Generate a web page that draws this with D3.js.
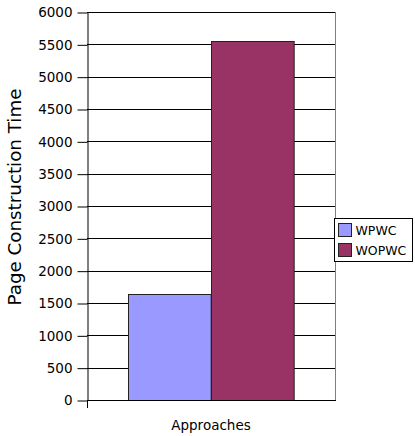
<!DOCTYPE html>
<html>
<head>
<meta charset="utf-8">
<script src="https://cdn.jsdelivr.net/npm/d3@7"></script>
<style>
  html, body { margin: 0; padding: 0; background: #fff; }
  svg { display: block; font-family: "DejaVu Sans", Verdana, sans-serif; }
</style>
</head>
<body>
<svg id="chart" width="415" height="436"></svg>
<script>
// Chart data
const categories = ["Approaches"];
const seriesNames = ["WPWC", "WOPWC"];
const seriesValues = [1635, 5555];
const seriesColors = ["#9999FF", "#993366"];
const yTicks = [0, 500, 1000, 1500, 2000, 2500, 3000, 3500, 4000, 4500, 5000, 5500, 6000];

const svg = d3.select("#chart");
const plot = { left: 87, right: 335, top: 12, bottom: 400 };

const y = d3.scaleLinear().domain([0, 6000]).range([plot.bottom, plot.top]);
const x0 = d3.scaleBand().domain(categories).range([plot.left, plot.right])
  .paddingInner(0).paddingOuter(0.25);
const x1 = d3.scaleBand().domain(seriesNames).range([0, x0.bandwidth()]).padding(0);

// Horizontal gridlines
svg.append("g")
  .selectAll("line")
  .data(yTicks.filter(d => d > 0))
  .join("line")
  .attr("x1", plot.left).attr("x2", plot.right)
  .attr("y1", d => Math.round(y(d)) + 0.5).attr("y2", d => Math.round(y(d)) + 0.5)
  .attr("stroke", "#000").attr("stroke-width", 1);

// Right border of the plot area
svg.append("line")
  .attr("x1", plot.right + 0.5).attr("x2", plot.right + 0.5)
  .attr("y1", Math.round(y(6000))).attr("y2", plot.bottom)
  .attr("stroke", "#808080");

// Bars
const data = seriesNames.map((name, i) => ({ cat: categories[0], name, value: seriesValues[i], color: seriesColors[i] }));
svg.append("g")
  .selectAll("rect")
  .data(data)
  .join("rect")
  .attr("x", d => Math.round(x0(d.cat) + x1(d.name)) + 0.5)
  .attr("y", d => Math.round(y(d.value)) + 0.5)
  .attr("width", x1.bandwidth())
  .attr("height", d => Math.round(y(0)) - Math.round(y(d.value)))
  .attr("fill", d => d.color)
  .attr("stroke", "#222").attr("stroke-width", 1);

// Y axis
const yAxis = d3.axisLeft(y).tickValues(yTicks).tickFormat(d3.format("d"))
  .tickSizeOuter(0).tickSizeInner(10).tickPadding(5);
const gy = svg.append("g").attr("transform", `translate(${plot.left + 0.5},0.5)`).call(yAxis);
gy.select(".domain").attr("stroke", "#000");
gy.selectAll(".tick line").attr("stroke", "#000");
gy.selectAll(".tick text")
  .attr("font-size", "13.5px")
  .attr("font-family", "DejaVu Sans, Verdana, sans-serif")
  .attr("fill", "#000");

// X axis baseline and left tick
svg.append("line")
  .attr("x1", plot.left).attr("x2", plot.right + 1)
  .attr("y1", plot.bottom + 0.5).attr("y2", plot.bottom + 0.5)
  .attr("stroke", "#000");
svg.append("line")
  .attr("x1", plot.left + 0.5).attr("x2", plot.left + 0.5)
  .attr("y1", plot.bottom).attr("y2", plot.bottom + 8)
  .attr("stroke", "#000");

// Category label
svg.append("text")
  .attr("x", x0(categories[0]) + x0.bandwidth() / 2)
  .attr("y", 430)
  .attr("text-anchor", "middle")
  .attr("font-size", "13.5px")
  .text(categories[0]);

// Y axis title
svg.append("text")
  .attr("transform", "translate(21,197) rotate(-90)")
  .attr("text-anchor", "middle")
  .attr("font-size", "18.3px")
  .text("Page Construction Time");

// Legend
const legend = svg.append("g").attr("transform", "translate(334.5,218.5)");
legend.append("rect")
  .attr("width", 78).attr("height", 43)
  .attr("fill", "#fff").attr("stroke", "#000");
const items = legend.selectAll("g.item")
  .data(data)
  .join("g")
  .attr("class", "item")
  .attr("transform", (d, i) => `translate(4,${5 + i * 20})`);
items.append("rect")
  .attr("width", 13).attr("height", 13)
  .attr("fill", d => d.color).attr("stroke", "#222");
items.append("text")
  .attr("x", 17).attr("y", 11)
  .attr("font-size", "12.5px")
  .text(d => d.name);
</script>
</body>
</html>
